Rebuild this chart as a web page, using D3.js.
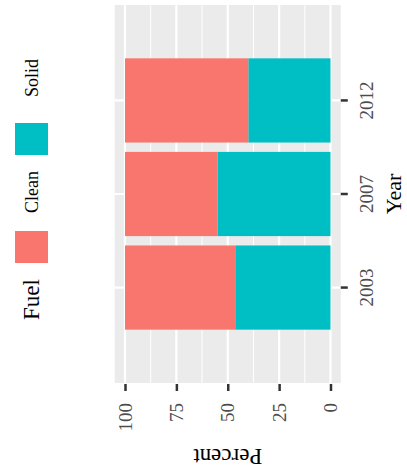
<!DOCTYPE html>
<html>
<head>
<meta charset="utf-8">
<script src="https://cdn.jsdelivr.net/npm/d3@7"></script>
<style>
  html, body { margin: 0; padding: 0; background: #fff; }
  svg { display: block; }
  text { font-family: "Liberation Serif", "Times New Roman", serif; }
</style>
</head>
<body>
<script>
// ---- data ----
const years = ["2003", "2007", "2012"];
const fuelTypes = ["Clean", "Solid"];
const cleanValues = [54, 45, 60];
const solidValues = [46, 55, 40];
const percentTicks = [0, 25, 50, 75, 100];
const minorTicks = [12.5, 37.5, 62.5, 87.5];
const colors = ["#F8766D", "#00BFC4"];

const W = 407, H = 474;
const svg = d3.select("body").append("svg").attr("width", W).attr("height", H);
svg.append("rect").attr("width", W).attr("height", H).attr("fill", "#fff");

// the whole plot is drawn in original orientation and rotated -90deg
const g = svg.append("g").attr("transform", `translate(0,${H}) rotate(-90)`);

const rows = years.map((y, i) => ({ Year: y, Clean: cleanValues[i], Solid: solidValues[i] }));
const stack = d3.stack().keys(["Solid", "Clean"]).offset(d3.stackOffsetExpand);
const series = stack(rows);

const x = d3.scaleBand().domain(years).range([91, 469]).paddingInner(0.1).paddingOuter(0.57);
const y = d3.scaleLinear().domain([0, 100]).range([330.5, 125]);
const color = d3.scaleOrdinal().domain(fuelTypes).range(colors);

const pTop = y(105), pBot = y(-5);

// panel
g.append("rect").attr("x", 91).attr("y", pTop).attr("width", 469 - 91).attr("height", pBot - pTop)
  .attr("fill", "#EBEBEB");

// grid
g.selectAll(".minor").data(minorTicks).join("line")
  .attr("x1", 91).attr("x2", 469).attr("y1", d => y(d)).attr("y2", d => y(d))
  .attr("stroke", "#fff").attr("stroke-width", 1);
g.selectAll(".major").data(percentTicks).join("line")
  .attr("x1", 91).attr("x2", 469).attr("y1", d => y(d)).attr("y2", d => y(d))
  .attr("stroke", "#fff").attr("stroke-width", 2.2);
g.selectAll(".vmajor").data(years).join("line")
  .attr("x1", d => x(d) + x.bandwidth() / 2).attr("x2", d => x(d) + x.bandwidth() / 2)
  .attr("y1", pTop).attr("y2", pBot)
  .attr("stroke", "#fff").attr("stroke-width", 2.2);

// bars
g.selectAll(".layer").data(series).join("g")
  .attr("fill", d => color(d.key))
  .selectAll("rect").data(d => d).join("rect")
  .attr("x", d => x(d.data.Year))
  .attr("width", x.bandwidth())
  .attr("y", d => y(d[1] * 100))
  .attr("height", d => y(d[0] * 100) - y(d[1] * 100));

// axes
const yAxis = g.append("g").attr("transform", "translate(90,0)")
  .call(d3.axisLeft(y).tickValues(percentTicks).tickSize(7).tickPadding(12));
const xAxis = g.append("g").attr("transform", `translate(0,${pBot})`)
  .call(d3.axisBottom(x).tickSize(7).tickPadding(12));
[yAxis, xAxis].forEach(a => {
  a.select(".domain").remove();
  a.selectAll(".tick line").attr("stroke", "#333").attr("stroke-width", 2.5);
  a.selectAll(".tick text").attr("fill", "#4D4D4D").style("font-size", "19px")
    .style("font-family", '"Liberation Serif", serif');
});

// axis titles
g.append("text").attr("x", 280).attr("y", 401).attr("text-anchor", "middle")
  .style("font-size", "22px").attr("fill", "#000").text("Year");
g.append("text").attr("transform", `translate(25,${(pTop + pBot) / 2}) rotate(-90)`)
  .attr("text-anchor", "middle").style("font-size", "23px").attr("fill", "#000").text("Percent");

// legend
const legend = g.append("g");
legend.append("text").attr("x", 154).attr("y", 39).style("font-size", "23px").attr("fill", "#000").text("Fuel");
const keyX = [211, 319];
const labX = [261, 377];
const items = legend.selectAll(".item").data(fuelTypes).join("g");
items.append("rect").attr("x", (d, i) => keyX[i]).attr("y", 15).attr("width", 32).attr("height", 33)
  .attr("fill", d => color(d));
items.append("text").attr("x", (d, i) => labX[i]).attr("y", 37.5).style("font-size", "18px")
  .attr("fill", "#000").text(d => d);
</script>
</body>
</html>
